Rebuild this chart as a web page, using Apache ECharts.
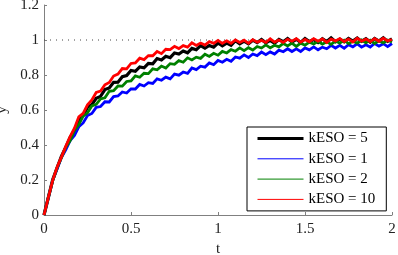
<!DOCTYPE html>
<html><head><meta charset="utf-8">
<script src="https://cdn.jsdelivr.net/npm/echarts@6/dist/echarts.min.js"></script>
<style>html,body{margin:0;padding:0;background:#fff}#c{width:398px;height:255px}</style>
</head><body><div id="c"></div>
<script>
// time samples t = 0 .. 2 step 0.025
var tValues = [];
for (var i = 0; i <= 80; i++) tValues.push(+(i * 0.025).toFixed(3));

var seriesNames = ['kESO = 5', 'kESO = 1', 'kESO = 2', 'kESO = 10'];
var seriesColors = ['#000000', '#0000ff', '#008000', '#ff0000'];
var xTicks = [0, 0.5, 1, 1.5, 2];
var yTicks = [0, 0.2, 0.4, 0.6, 0.8, 1, 1.2];
var refLevel = 1;

var k5 = [0,.10,.201,.268,.335,.386,.443,.482,.544,.57,.616,.631,.667,.678,.717,.726,.758,.759,.79,.797,
  .826,.821,.846,.841,.866,.864,.894,.886,.907,.899,.926,.92,.937,.927,.952,.944,.968,.953,.969,.959,
  .983,.967,.982,.97,.996,.978,.993,.978,.999,.985,1.003,.984,.998,.982,1.003,.99,1.008,.988,1.004,.986,
  1.008,.991,1.002,.986,1.007,.991,1.012,.99,1.005,.99,1.009,.994,1.011,.992,1.007,.988,1.009,.994,1.013,.992,1.007];
var k1 = [0,.099,.198,.263,.328,.372,.425,.455,.504,.526,.568,.58,.615,.62,.647,.646,.677,.68,.703,.697,
  .721,.72,.746,.737,.756,.752,.778,.77,.788,.778,.805,.799,.817,.809,.84,.831,.85,.845,.869,.859,
  .883,.873,.89,.878,.903,.896,.915,.90,.92,.911,.931,.916,.932,.92,.942,.933,.95,.934,.949,.934,
  .955,.944,.961,.944,.959,.95,.969,.954,.969,.953,.973,.961,.978,.959,.973,.96,.98,.965,.979,.962,.98];
var k2 = [0,.101,.196,.27,.327,.387,.424,.483,.517,.565,.584,.623,.632,.663,.67,.707,.71,.737,.736,.763,
  .766,.795,.787,.81,.808,.835,.83,.851,.84,.865,.861,.882,.873,.898,.886,.902,.895,.919,.906,.924,
  .913,.935,.926,.945,.936,.955,.939,.956,.943,.963,.954,.972,.955,.97,.961,.98,.966,.982,.963,.982,
  .97,.988,.977,.993,.976,.99,.975,.994,.982,.999,.979,.993,.982,1.0,.984,.999,.98,.997,.983,.999,.989];
var k10 = [0,.101,.198,.273,.331,.392,.448,.496,.561,.581,.63,.657,.70,.708,.744,.757,.794,.805,.837,.835,
  .866,.869,.896,.888,.911,.91,.934,.922,.947,.945,.964,.951,.968,.959,.984,.969,.983,.971,.991,.981,
  .998,.981,.995,.981,1.0,.986,.999,.981,1.002,.987,.998,.986,1.007,.988,1.0,.986,1.004,.993,1.008,.988,
  1.003,.99,1.008,.993,1.006,.986,1.005,.995,1.008,.991,1.005,.989,1.01,.993,1.005,.991,1.008,.993,1.01,.995,1.003];

var allY = [k5, k1, k2, k10];
function pairs(arr) { return arr.map(function (v, i) { return [tValues[i], v]; }); }

var serif = 'Liberation Serif, Times New Roman, serif';
var axisGray = '#808080';

var series = [{
  name: 'ref', type: 'line', data: [[xTicks[0], refLevel], [xTicks[xTicks.length - 1], refLevel]],
  symbol: 'none', silent: true, z: 1,
  lineStyle: { color: '#444', width: 1, type: [1, 5] }
}];
allY.forEach(function (arr, i) {
  series.push({
    name: seriesNames[i], type: 'line', data: pairs(arr), symbol: 'none', showSymbol: false,
    z: 2 + i, animation: false,
    lineStyle: { color: seriesColors[i], width: i === 0 ? 3.2 : 2.8, join: 'miter' },
    itemStyle: { color: seriesColors[i] }
  });
});

var chart = echarts.init(document.getElementById('c'), null, { renderer: 'canvas' });
chart.setOption({
  animation: false,
  backgroundColor: '#fff',
  grid: { left: 44, right: 6, top: 5, bottom: 40, containLabel: false, outerBoundsMode: 'none' },
  xAxis: {
    type: 'value', min: xTicks[0], max: xTicks[xTicks.length - 1], interval: 0.5,
    name: 't', nameLocation: 'middle', nameGap: 21,
    nameTextStyle: { fontFamily: serif, fontSize: 15, color: '#222' },
    axisLine: { lineStyle: { color: axisGray, width: 1 } },
    axisTick: { inside: true, length: 3, lineStyle: { color: axisGray } },
    axisLabel: { fontFamily: serif, fontSize: 15, color: '#222', margin: 7 },
    splitLine: { show: false }
  },
  yAxis: {
    type: 'value', min: yTicks[0], max: yTicks[yTicks.length - 1], interval: 0.2,
    name: 'y', nameLocation: 'middle', nameGap: 29, nameRotate: 90,
    nameTextStyle: { fontFamily: serif, fontSize: 15, color: '#222' },
    axisLine: { show: true, lineStyle: { color: axisGray, width: 1 } },
    axisTick: { show: true, inside: true, length: 3, lineStyle: { color: axisGray } },
    axisLabel: { fontFamily: serif, fontSize: 15, color: '#222', margin: 5,
      formatter: function (v) { return String(+v.toFixed(1)); } },
    splitLine: { show: false }
  },
  legend: {
    orient: 'vertical', left: 247, top: 127,
    padding: [4, 11, 4, 9], itemGap: 5.3, itemWidth: 46, itemHeight: 14,
    backgroundColor: '#fff', borderColor: '#000', borderWidth: 1, borderRadius: 0,
    textStyle: { fontFamily: serif, fontSize: 15, color: '#000' },
    itemStyle: { color: 'rgba(0,0,0,0)', borderWidth: 0, opacity: 0 },
    data: seriesNames.map(function (n, i) {
      return { name: n,
        lineStyle: { width: i === 0 ? 3 : 1, color: seriesColors[i], opacity: 1 },
        itemStyle: { color: 'rgba(0,0,0,0)', borderWidth: 0, opacity: 0 } };
    })
  },
  series: series
});
</script></body></html>
